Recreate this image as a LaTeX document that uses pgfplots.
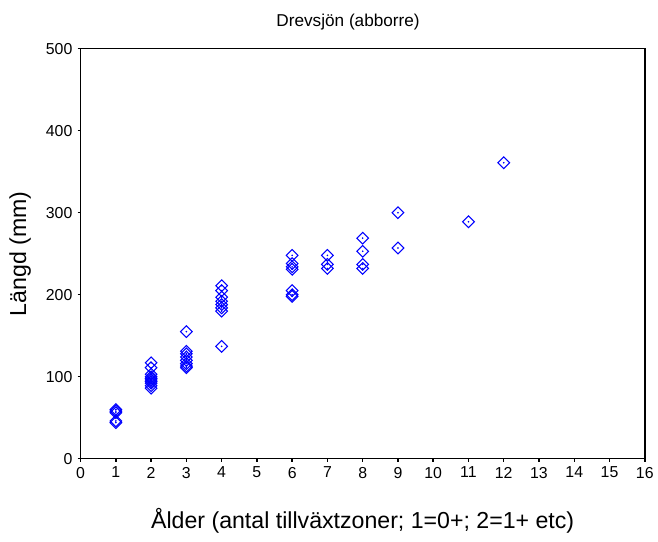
\documentclass[border=0pt]{standalone}
\usepackage{pgfplots}
\pgfplotsset{compat=1.18}
\usepackage{pgfplotstable}
\usepackage{fontspec}
\setmainfont{Liberation Sans}

% Perch length (mm) against age (number of growth zones)
\pgfplotstableread{
age len
1 60
1 58
1 56
1 46
1 44
2 117
2 111
2 103
2 100
2 98
2 96
2 94
2 92
2 89
2 86
3 155
3 131
3 128
3 124
3 120
3 116
3 113
3 111
4 211
4 205
4 197
4 192
4 188
4 184
4 180
4 137
6 248
6 238
6 234
6 231
6 205
6 200
6 198
7 248
7 237
7 232
8 269
8 253
8 237
8 232
9 300
9 257
11 289
12 361
}\perch

\begin{document}
\begin{tikzpicture}
\begin{axis}[
  scale only axis,
  width=425.25bp, height=309bp,
  at={(0,0)}, anchor=south west,
  xmin=0, xmax=16, ymin=0, ymax=500,
  xtick={0,1,...,16}, ytick={0,100,...,500},
  axis line style={line width=1.1bp},
  tick style={line width=1.1bp, black},
  tick align=outside, major tick length=2.2bp,
  xtick pos=bottom, ytick pos=left,
  /pgf/number format/assume math mode=true,
  /pgf/number format/1000 sep={},
  ticklabel style={font=\fontsize{12}{14}\selectfont},
  xticklabel style={yshift=-0.5bp},
  yticklabel style={xshift=-0.5bp},
  clip=false,
]
\addplot[only marks, color=blue, mark=square, mark size=3.1bp,
  mark options={rotate=45, line width=0.8bp, fill=none}] table[x=age, y=len] {\perch};
\addplot[only marks, color=blue, mark=*, mark size=0.4bp] table[x=age, y=len] {\perch};
\node[anchor=base, font=\fontsize{13}{15}\selectfont] at ([xshift=-11bp, yshift=17bp]rel axis cs:0.5,1) {Drevsjön (abborre)};
\node[rotate=90, anchor=center, font=\fontsize{17.5}{20}\selectfont] at ([xshift=-45.5bp]rel axis cs:0,0.5) {Längd (mm)};
\node[anchor=center, font=\fontsize{17.5}{20}\selectfont] at ([yshift=-47bp]rel axis cs:0.5,0) {Ålder (antal tillväxtzoner; 1=0+; 2=1+ etc)};
\end{axis}
\path[use as bounding box] (-60.75bp,-62.25bp) rectangle (432.75bp,345.75bp);
\end{tikzpicture}
\end{document}
